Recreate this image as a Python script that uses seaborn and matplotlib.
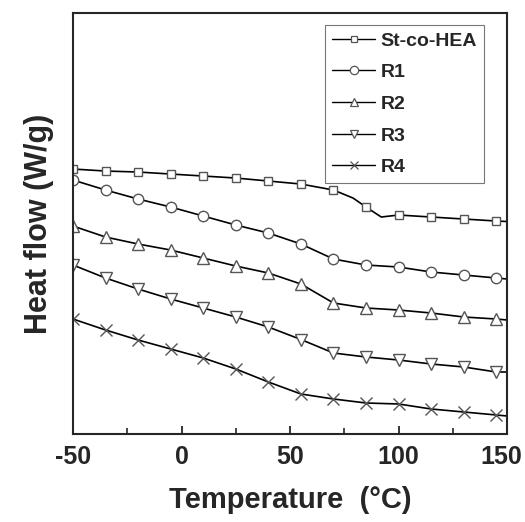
import pandas as pd
import matplotlib
matplotlib.use('Agg')
import matplotlib.pyplot as plt
from matplotlib.lines import Line2D
from matplotlib.ticker import MultipleLocator
from matplotlib.transforms import ScaledTranslation
import seaborn as sns

# temperatures where the curves were read (markers every 15 C, plus curve points)
temp_st = [-50, -35, -20, -5, 10, 25, 40, 55, 70, 79, 85, 92, 100, 115, 130, 145, 150]
st_co_hea = [2.65, 2.63, 2.62, 2.60, 2.58, 2.56, 2.53, 2.50, 2.44, 2.36, 2.27, 2.17, 2.19, 2.17, 2.15, 2.13, 2.125]
st_marks = [0, 1, 2, 3, 4, 5, 6, 7, 8, 10, 12, 13, 14, 15]

temp = [-50, -35, -20, -5, 10, 25, 40, 55, 70, 85, 100, 115, 130, 145, 150]
r1 = [2.54, 2.44, 2.35, 2.27, 2.18, 2.09, 2.01, 1.90, 1.75, 1.69, 1.67, 1.62, 1.59, 1.56, 1.55]
r2 = [2.08, 1.97, 1.90, 1.84, 1.76, 1.68, 1.61, 1.50, 1.31, 1.26, 1.24, 1.21, 1.17, 1.15, 1.14]
r3 = [1.69, 1.56, 1.45, 1.35, 1.26, 1.17, 1.07, 0.945, 0.81, 0.77, 0.74, 0.70, 0.67, 0.62, 0.62]
r4 = [1.15, 1.04, 0.94, 0.85, 0.76, 0.65, 0.52, 0.40, 0.35, 0.31, 0.30, 0.25, 0.22, 0.19, 0.18]
marks = list(range(14))

nomes = ['St-co-HEA', 'R1', 'R2', 'R3', 'R4']
marcadores = ['s', 'o', '^', 'v', 'x']
tamanhos = [6, 7.5, 8, 8, 8]
xticks = [-50, 0, 50, 100, 150]

sns.set_style('ticks')
plt.rcParams['font.family'] = ['Liberation Sans Narrow', 'Liberation Sans', 'DejaVu Sans']
plt.rcParams['font.weight'] = 'bold'
plt.rcParams['axes.unicode_minus'] = False

fig = plt.figure(figsize=(5.25, 5.22), dpi=100)
ax = fig.add_axes([0.139, 0.1686, 0.827, 0.8064])

series = [(temp_st, st_co_hea, st_marks), (temp, r1, marks), (temp, r2, marks),
          (temp, r3, marks), (temp, r4, marks)]
handles = []
for (x, y, me), nome, mk, ms in zip(series, nomes, marcadores, tamanhos):
    df = pd.DataFrame({'T': x, 'H': y})
    sns.lineplot(data=df, x='T', y='H', ax=ax, color='black', linewidth=1.2,
                 marker=mk, markersize=ms, markevery=me, markerfacecolor='white',
                 markeredgecolor='#555555', markeredgewidth=1.0, sort=False)
    handles.append(Line2D([0], [0], color='black', linewidth=1.0, marker=mk,
                          markersize=ms * 0.8, markerfacecolor='white',
                          markeredgecolor='#555555', markeredgewidth=0.9, label=nome))

ax.set_xlim(-50, 150)
ax.set_ylim(0, 4.21)
ax.set_xticks(xticks)
ax.xaxis.set_minor_locator(MultipleLocator(25))
ax.set_yticks([])
ax.tick_params(axis='x', which='major', direction='in', length=6, width=1.3,
               labelsize=18, pad=8)
ax.tick_params(axis='x', which='minor', direction='in', length=4, width=1.2)
for lab in ax.get_xticklabels():
    lab.set_fontweight('bold')
for s in ax.spines.values():
    s.set_linewidth(1.5)
    s.set_visible(True)

ax.set_xlabel('Temperature  (°C)', fontsize=21, fontweight='bold', labelpad=12)
ax.set_ylabel('Heat flow (W/g)', fontsize=22, fontweight='bold', labelpad=14)

leg = ax.legend(handles=handles, loc='upper right', bbox_to_anchor=(0.947, 0.971),
                borderaxespad=0, fancybox=False, framealpha=1, edgecolor='#777777',
                prop={'size': 14, 'weight': 'bold'}, handlelength=2.2,
                handletextpad=0.3, labelspacing=0.72, borderpad=0.35)
leg.get_frame().set_linewidth(0.8)

# keep the last tick label inside the figure
fig.canvas.draw()
ultimo = ax.xaxis.get_major_ticks()[-1].label1
ultimo.set_transform(ultimo.get_transform() + ScaledTranslation(-4 / 72, 0, fig.dpi_scale_trans))

fig.savefig('out.png', dpi=100)
